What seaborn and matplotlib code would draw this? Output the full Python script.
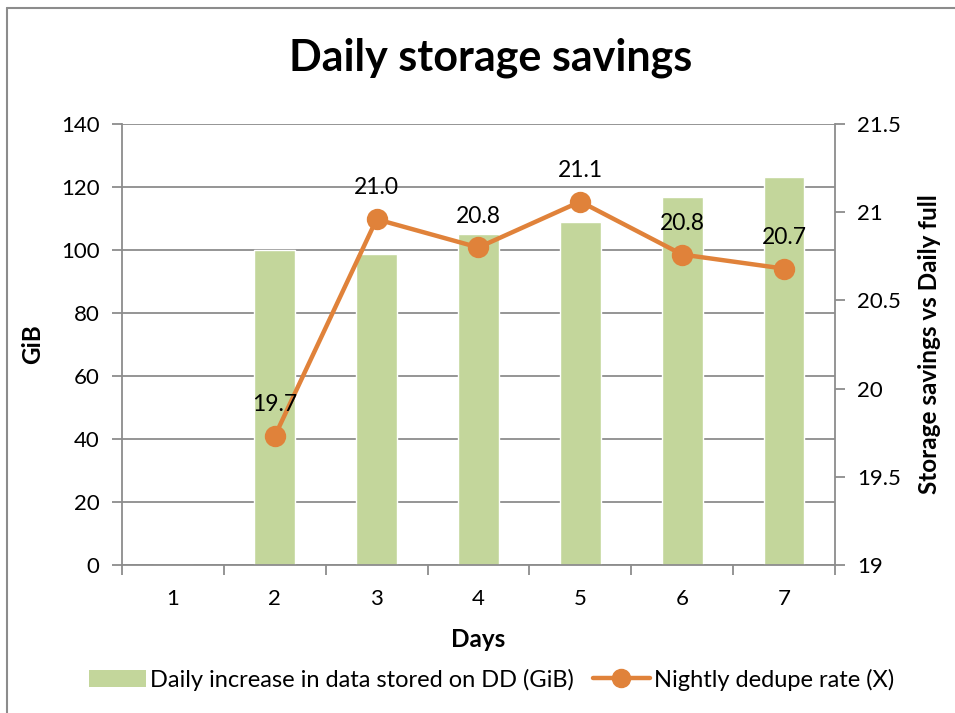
import numpy as np
import pandas as pd
import matplotlib
matplotlib.use("Agg")
import matplotlib.pyplot as plt
from matplotlib.lines import Line2D
from matplotlib.patches import Patch
import seaborn as sns

# data
days = ["1", "2", "3", "4", "5", "6", "7"]
gib_increase = [0, 100, 98.7, 105, 109, 116.7, 123.2]
dedupe_rate = [np.nan, 19.73, 20.96, 20.80, 21.06, 20.76, 20.68]
rate_labels = ["", "19.7", "21.0", "20.8", "21.1", "20.8", "20.7"]

bar_color = "#c3d69b"
line_color = "#e0823a"
grid_color = "#8c8c8c"

sns.set_theme(style="white")
plt.rcParams["font.family"] = ["Lato", "DejaVu Sans"]
plt.rcParams["text.color"] = "black"
plt.rcParams["axes.labelcolor"] = "black"

df = pd.DataFrame({"day": days, "gib": gib_increase, "rate": dedupe_rate})

fig = plt.figure(figsize=(9.55, 7.13), dpi=100)
ax = fig.add_axes([0.1277, 0.2076, 0.7466, 0.6185])

sns.barplot(data=df, x="day", y="gib", order=days, color=bar_color,
            width=0.4, saturation=1, ax=ax)
ax.set_ylim(0, 140)
ax.set_yticks(np.arange(0, 141, 20))
ax.yaxis.grid(True, color=grid_color, linewidth=1.3)
ax.set_axisbelow(True)

ax2 = ax.twinx()
sns.pointplot(data=df, x="day", y="rate", order=days, color=line_color,
              errorbar=None, markersize=13, linewidth=3.2, ax=ax2)
ax2.set_ylim(19, 21.5)
ax2.set_yticks(np.arange(19, 21.51, 0.5))
ax2.set_yticklabels(["19", "19.5", "20", "20.5", "21", "21.5"])
ax.set_xlim(-0.5, 6.5)
ax2.set_xlim(-0.5, 6.5)

# data labels above the points
for i, (v, lab) in enumerate(zip(dedupe_rate, rate_labels)):
    if lab:
        ax2.annotate(lab, (i, v), xytext=(0, 15), textcoords="offset points",
                     ha="center", va="bottom", fontsize=16.5, color="black")

# spines and ticks
for a in (ax, ax2):
    a.spines["top"].set_visible(False)
    for s in ("left", "right", "bottom"):
        a.spines[s].set_color(grid_color)
        a.spines[s].set_linewidth(1.3)
ax.spines["right"].set_visible(False)
ax2.spines["left"].set_visible(False)
ax2.spines["bottom"].set_visible(False)

ax.tick_params(axis="y", which="major", length=7, width=1.3, color=grid_color,
               labelsize=16, labelcolor="black", pad=9, left=True,
               direction="out")
ax2.tick_params(axis="y", which="major", length=7, width=1.3, color=grid_color,
                labelsize=16, labelcolor="black", pad=9, right=True,
                direction="out")
ax.set_xticks(np.arange(-0.5, 6.6, 1), minor=True)
ax.tick_params(axis="x", which="minor", length=7, width=1.3, color=grid_color,
               bottom=True, direction="out")
ax.tick_params(axis="x", which="major", length=0, labelsize=16,
               labelcolor="black", pad=17)

ax.set_xlabel("Days", fontsize=17.5, fontweight="bold", labelpad=14)
ax.set_ylabel("GiB", fontsize=17.5, fontweight="bold", labelpad=12)
ax2.set_ylabel("Storage savings vs Daily full", fontsize=17.5,
               fontweight="bold", labelpad=12)

fig.suptitle("Daily storage savings", fontsize=31, fontweight="bold",
             x=0.514, y=0.948, color="black")

handles = [
    Patch(facecolor=bar_color, edgecolor="none",
          label="Daily increase in data stored on DD (GiB)"),
    Line2D([0], [0], color=line_color, linewidth=3.2, marker="o",
           markersize=13, label="Nightly dedupe rate (X)"),
]
fig.legend(handles=handles, loc="center", bbox_to_anchor=(0.515, 0.047),
           ncol=2, frameon=False, fontsize=17, handlelength=2.4,
           handletextpad=0.2, columnspacing=0.8)

# chart area border (left and top visible)
fig.add_artist(Line2D([0.0073, 0.0073], [0, 0.989], transform=fig.transFigure,
                      color=grid_color, linewidth=1.5))
fig.add_artist(Line2D([0.0073, 1.0], [0.989, 0.989], transform=fig.transFigure,
                      color=grid_color, linewidth=1.5))

fig.savefig("out.png", dpi=100)
